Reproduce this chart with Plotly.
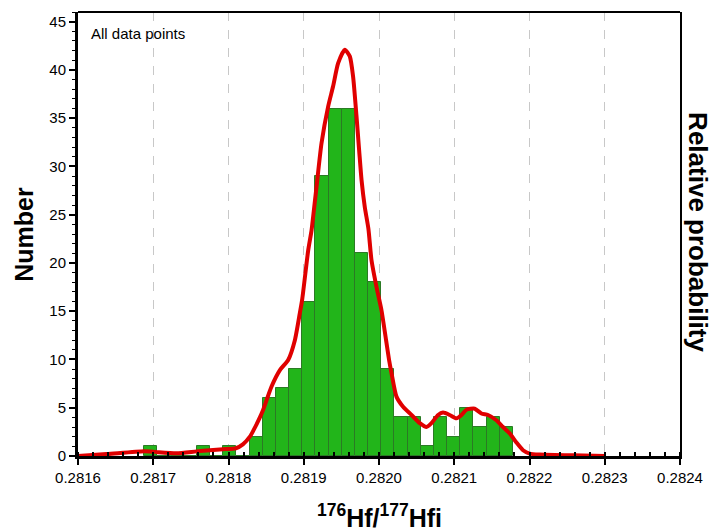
import plotly.graph_objects as go

# Histogram bins of 176Hf/177Hf(i)
bin_start = 0.281688
bin_width = 0.0000175
counts = [1, 0, 0, 0, 1, 0, 1, 0,
          2, 6, 7, 9, 16, 29, 36, 36, 21, 18, 9, 4,
          4, 1, 4, 2, 5, 3, 4, 3]

# Relative probability curve (scaled to the count axis)
curve_x = [0.2816000, 0.2816381, 0.2816876, 0.2816996, 0.2817062, 0.2817311,
           0.2817576, 0.2817753, 0.2817926, 0.2818098, 0.2818191, 0.2818284,
           0.2818328, 0.2818417, 0.2818461, 0.2818572, 0.2818683, 0.2818793,
           0.2818882, 0.2818948, 0.2818979, 0.2819059, 0.2819104, 0.2819125,
           0.2819170, 0.2819236, 0.2819324, 0.2819390, 0.2819457, 0.2819546,
           0.2819612, 0.2819656, 0.2819701, 0.2819736, 0.2819768, 0.2819811,
           0.2819860, 0.2819900, 0.2819967, 0.2820033, 0.2820094, 0.2820134,
           0.2820166, 0.2820232, 0.2820320, 0.2820432, 0.2820542, 0.2820631,
           0.2820697, 0.2820785, 0.2820851, 0.2820940, 0.2821029, 0.2821096,
           0.2821162, 0.2821272, 0.2821361, 0.2821449, 0.2821560, 0.2821648,
           0.2821737, 0.2821826, 0.2821914, 0.2822003, 0.2822135, 0.2822574,
           0.2823000]
curve_y = [0.0, 0.2, 0.5, 0.45, 0.4, 0.28,
           0.48, 0.6, 0.7, 0.8, 1.2, 2.0,
           2.6, 4.0, 4.8, 7.2, 8.9, 9.95,
           12.0, 14.8, 16.2, 21.3, 23.4, 24.8,
           27.9, 32.4, 36.2, 38.3, 40.7, 42.1,
           41.4, 39.3, 35.2, 31.7, 28.6, 25.8,
           23.5, 20.3, 17.5, 15.1, 12.0, 9.95,
           8.6, 6.15, 5.1, 4.25, 3.4, 3.0,
           3.4, 4.25, 4.5, 4.25, 3.9, 4.25,
           4.8, 4.9, 4.4, 4.25, 3.7, 3.0,
           2.35, 1.4, 0.6, 0.25, 0.15, 0.07,
           0.0]

x_ticks = [0.2816, 0.2817, 0.2818, 0.2819, 0.2820, 0.2821, 0.2822, 0.2823, 0.2824]
y_ticks = [0, 5, 10, 15, 20, 25, 30, 35, 40, 45]

bin_centers = [bin_start + (i + 0.5) * bin_width for i in range(len(counts))]

FONT = "Arial, Liberation Sans, sans-serif"

fig = go.Figure()
fig.add_trace(go.Bar(
    x=bin_centers, y=counts, width=bin_width,
    marker=dict(color="#22b51a", line=dict(color="#2b7a25", width=1)),
    showlegend=False,
))
fig.add_trace(go.Scatter(
    x=curve_x, y=curve_y, mode="lines", yaxis="y2",
    line=dict(color="#e00000", width=4, shape="spline", smoothing=0.6),
    cliponaxis=False, showlegend=False,
))

fig.update_layout(
    width=714, height=530,
    margin=dict(l=78, r=34, t=12, b=74),
    paper_bgcolor="white", plot_bgcolor="white",
    font=dict(family=FONT, size=15, color="black"),
    bargap=0,
    xaxis=dict(
        range=[0.2816, 0.2824], tickvals=x_ticks,
        ticktext=[f"{v:.4f}" for v in x_ticks],
        showline=True, linecolor="black", linewidth=3,
        ticks="outside", ticklen=6, tickwidth=1.5, tickcolor="black",
        minor=dict(ticks="inside", dtick=0.00002, tick0=0.2816,
                   ticklen=4, tickwidth=1.5, tickcolor="black", showgrid=False),
        showgrid=True, gridcolor="#c8c8c8", gridwidth=1, griddash="dash",
        zeroline=False, tickfont=dict(size=15),
    ),
    yaxis=dict(
        range=[0, 46], tickvals=y_ticks,
        showline=True, linecolor="black", linewidth=3,
        ticks="outside", ticklen=6, tickwidth=1.5, tickcolor="black",
        minor=dict(ticks="outside", dtick=1, tick0=0,
                   ticklen=3, tickwidth=1, tickcolor="black", showgrid=False),
        showgrid=False, zeroline=False, tickfont=dict(size=15),
    ),
    yaxis2=dict(
        range=[0, 46], overlaying="y", side="right",
        showline=True, linecolor="black", linewidth=2,
        showticklabels=False, ticks="", showgrid=False, zeroline=False,
    ),
    shapes=[dict(type="line", xref="paper", yref="paper",
                 x0=0, x1=1, y0=1, y1=1,
                 line=dict(color="black", width=2))],
    annotations=[
        dict(text="All data points", xref="paper", yref="paper",
             x=0.018, y=0.975, xanchor="left", yanchor="top",
             showarrow=False, font=dict(size=15)),
        dict(text="<b>Number</b>", xref="paper", yref="paper",
             x=-0.09, y=0.5, xanchor="center", yanchor="middle",
             textangle=-90, showarrow=False, font=dict(size=25)),
        dict(text="<b>Relative probability</b>", xref="paper", yref="paper",
             x=1.031, y=0.505, xanchor="center", yanchor="middle",
             textangle=90, showarrow=False, font=dict(size=26)),
        dict(text="<b><sup>176</sup>Hf/<sup>177</sup>Hfi</b>", xref="paper", yref="paper",
             x=0.5, y=-0.135, xanchor="center", yanchor="middle",
             showarrow=False, font=dict(size=25)),
    ],
)

fig.write_html("out.html")
